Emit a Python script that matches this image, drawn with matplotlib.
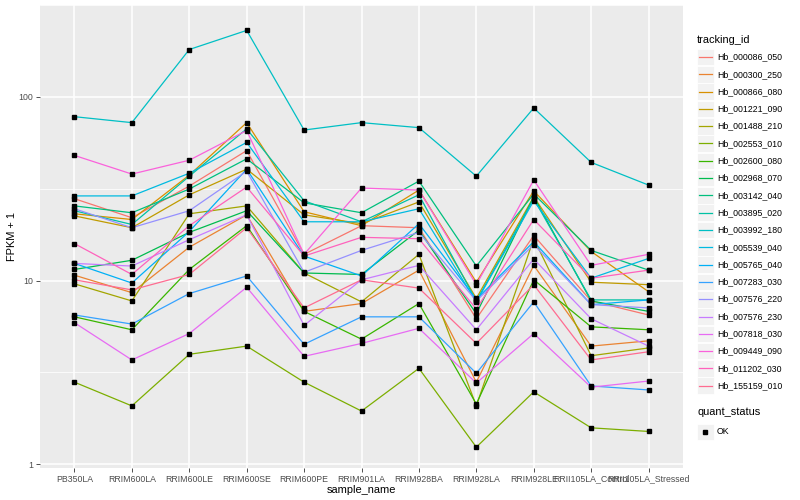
import numpy as np
import matplotlib
matplotlib.use("Agg")
from matplotlib import pyplot as plt
from matplotlib.patches import Rectangle
from matplotlib.lines import Line2D

plt.rcParams['font.family'] = ['Liberation Sans', 'DejaVu Sans']

samples = ["PB350LA", "RRIM600LA", "RRIM600LE", "RRIM600SE", "RRIM600PE",
           "RRIM901LA", "RRIM928BA", "RRIM928LA", "RRIM928LE",
           "RRII105LA_Control", "RRII105LA_Stressed"]

tracking_ids = ["Hb_000086_050", "Hb_000300_250", "Hb_000866_080", "Hb_001221_090",
                "Hb_001488_210", "Hb_002553_010", "Hb_002600_080", "Hb_002968_070",
                "Hb_003142_040", "Hb_003895_020", "Hb_003992_180", "Hb_005539_040",
                "Hb_005765_040", "Hb_007283_030", "Hb_007576_220", "Hb_007576_230",
                "Hb_007818_030", "Hb_009449_090", "Hb_011202_030", "Hb_155159_010"]

# FPKM + 1, one row per tracking_id, columns follow samples
fpkm = [
    [27.9, 22.0, 32.7, 51.0, 13.9, 19.9, 19.4, 6.2, 17.6, 7.75, 6.5],
    [10.7, 8.6, 15.2, 22.8, 6.8, 7.5, 11.4, 2.8, 12.1, 4.4, 4.7],
    [23.1, 21.5, 37.5, 72.4, 23.7, 19.9, 31.1, 9.8, 30.8, 14.4, 8.7],
    [22.5, 19.4, 29.3, 40.4, 22.8, 20.4, 26.8, 8.0, 28.6, 9.8, 9.5],
    [9.6, 7.75, 23.1, 25.5, 11.0, 7.66, 13.9, 2.08, 16.9, 3.9, 4.3],
    [2.8, 2.08, 3.97, 4.4, 2.8, 1.95, 3.33, 1.24, 2.48, 1.58, 1.51],
    [6.35, 5.4, 11.5, 19.9, 6.8, 4.8, 7.5, 2.13, 10.1, 5.6, 5.4],
    [11.5, 12.9, 18.3, 24.0, 11.0, 10.8, 18.8, 6.6, 28.6, 7.75, 6.8],
    [25.5, 23.4, 31.5, 46.0, 26.5, 23.4, 34.8, 12.0, 29.6, 14.6, 11.4],
    [24.0, 20.2, 37.0, 67.0, 27.2, 20.9, 29.3, 7.75, 27.9, 7.85, 7.85],
    [78.0, 72.4, 181.0, 230.0, 66.0, 72.4, 68.0, 37.0, 87.0, 44.0, 33.1],
    [28.9, 28.9, 38.4, 56.5, 20.9, 20.9, 24.6, 7.66, 27.2, 10.3, 13.2],
    [12.4, 9.7, 18.5, 40.4, 13.6, 10.6, 20.4, 7.9, 16.3, 7.4, 7.85],
    [6.5, 5.8, 8.5, 10.6, 4.5, 6.35, 6.35, 3.13, 7.66, 2.67, 2.54],
    [24.6, 19.4, 24.0, 39.4, 11.1, 14.6, 18.3, 7.75, 15.7, 7.4, 7.1],
    [12.4, 12.0, 16.7, 22.8, 5.7, 10.1, 12.1, 5.4, 13.1, 6.2, 4.4],
    [5.9, 3.7, 5.15, 9.2, 3.87, 4.55, 5.5, 2.77, 5.15, 2.63, 2.84],
    [48.0, 38.0, 45.2, 65.6, 13.9, 31.9, 31.1, 9.5, 35.3, 12.1, 13.9],
    [15.9, 10.8, 19.9, 32.3, 13.6, 17.2, 16.9, 7.0, 21.5, 10.3, 11.4],
    [10.1, 8.9, 10.8, 19.4, 7.1, 10.1, 9.1, 4.55, 9.5, 3.7, 4.1],
]

# ggplot2 hue palette for 20 levels
colors = ["#F8766D", "#EA8331", "#D89000", "#C09B00", "#A3A500", "#7CAE00",
          "#39B600", "#00BB4E", "#00BF7D", "#00C1A3", "#00BFC4", "#00BAE0",
          "#00B0F6", "#35A2FF", "#9590FF", "#C77CFF", "#E76BF3", "#FA62DB",
          "#FF62BC", "#FF6C91"]

fig = plt.figure(figsize=(8, 5), dpi=100)
W, H = 800, 500
ax = fig.add_axes([40 / W, (H - 468) / H, (683 - 40) / W, (468 - 5) / H])
ax.set_facecolor("#EBEBEB")

x = np.arange(len(samples))
for vals, col in zip(fpkm, colors):
    ax.plot(x, vals, color=col, lw=0.9, zorder=3)
for vals in fpkm:
    ax.plot(x, vals, ls="none", marker="s", ms=2.3, color="black", zorder=4)

ax.set_yscale("log")
# ggplot-style 5% expansion, a bit more on top to match the reference
allv = np.log10(np.array(fpkm))
lo, hi = allv.min(), allv.max()
pad = (hi - lo) * 0.05
ax.set_ylim(10 ** (lo - pad), 10 ** (hi + pad - 0.01))
ax.set_xlim(-0.6, len(samples) - 0.4)

ax.set_yticks([1, 10, 100])
ax.set_yticklabels(["1", "10", "100"])
ax.set_yticks([10 ** 0.5, 10 ** 1.5, 10 ** 2.5], minor=True)
ax.yaxis.set_minor_formatter(matplotlib.ticker.NullFormatter())
ax.set_xticks(x)
ax.set_xticklabels(samples)

ax.grid(True, which="major", color="white", lw=1.1, zorder=0)
ax.grid(True, which="minor", axis="y", color="white", lw=0.55, zorder=0)
ax.set_axisbelow(True)
for s in ax.spines.values():
    s.set_visible(False)
ax.tick_params(which="major", length=2.8, width=0.6, color="#333333",
               labelsize=6.3, labelcolor="#4D4D4D", pad=2)
ax.tick_params(which="minor", length=0)

ax.set_xlabel("sample_name", fontsize=7.9, labelpad=1)
ax.set_ylabel("FPKM + 1", fontsize=7.9, labelpad=1)

# legend: tracking_id
def fx(px):
    return px / W

def fy(py):
    return 1 - py / H

fig.text(fx(697), fy(40), "tracking_id", fontsize=7.9, va="center", ha="left")
step = 17.3
for i, (tid, col) in enumerate(zip(tracking_ids, colors)):
    cy = 57 + i * step
    fig.add_artist(Rectangle((fx(697), fy(cy + 8.3)), 16.6 / W, 16.6 / H,
                             facecolor="#F2F2F2", edgecolor="white", lw=0.6,
                             transform=fig.transFigure))
    fig.add_artist(Line2D([fx(699), fx(712)], [fy(cy), fy(cy)], color=col, lw=0.9,
                          transform=fig.transFigure))
    fig.text(fx(717), fy(cy), tid, fontsize=6.3, va="center", ha="left")

# legend: quant_status
fig.text(fx(697), fy(412), "quant_status", fontsize=7.9, va="center", ha="left")
fig.add_artist(Rectangle((fx(697), fy(432 + 8.3)), 16.6 / W, 16.6 / H,
                         facecolor="#F2F2F2", edgecolor="white", lw=0.6,
                         transform=fig.transFigure))
fig.add_artist(Line2D([fx(705)], [fy(432)], ls="none", marker="s", ms=2.3,
                      color="black", transform=fig.transFigure))
fig.text(fx(717), fy(432), "OK", fontsize=6.3, va="center", ha="left")

fig.savefig("out.png", dpi=100)
